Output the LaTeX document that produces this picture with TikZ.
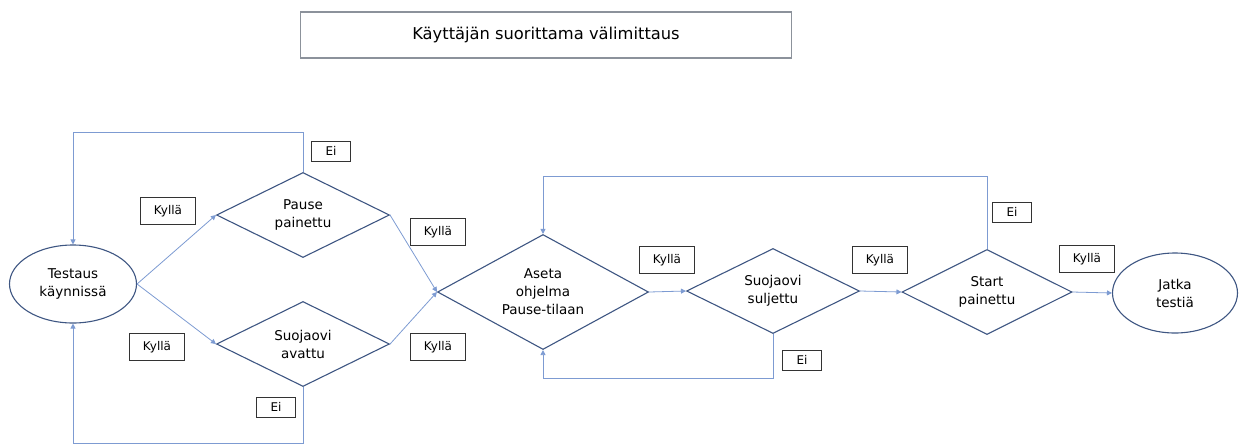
\documentclass[tikz,border=0pt]{standalone}
\usepackage{fontspec}
\setmainfont{DejaVu Sans}
\usepackage{tikz}
\usetikzlibrary{positioning, shapes.geometric, arrows.meta}

\definecolor{linkblue}{RGB}{125,155,210}
\definecolor{shapeblue}{RGB}{62,86,130}
\definecolor{titlegray}{RGB}{140,146,155}

\begin{document}
\begin{tikzpicture}[x=1pt,y=-1pt,
  oval_node/.style={ellipse,draw=shapeblue,line width=1.1pt,inner sep=0pt,minimum width=127,minimum height=78,align=center,font=\fontsize{13.5}{18}\selectfont},
  dec_node/.style={diamond,shape aspect=2,draw=shapeblue,line width=1.1pt,inner sep=0pt,minimum width=173,minimum height=85,align=center,font=\fontsize{13.5}{18}\selectfont},
  yesbox/.style={draw=black!80,line width=0.9pt,inner sep=0pt,minimum width=55,minimum height=27,font=\fontsize{12}{13}\selectfont},
  nobox/.style={draw=black!80,line width=0.9pt,inner sep=0pt,minimum width=39,minimum height=20,font=\fontsize{12}{13}\selectfont},
  link/.style={draw=linkblue,line width=0.8pt,-{Triangle[length=5pt,width=5pt]}}]

\useasboundingbox (0,0) rectangle (1239,445);

\node[draw=titlegray,line width=1.6pt,minimum width=491,minimum height=46,inner sep=0pt,font=\fontsize{16.3}{18}\selectfont] (title) at (546,35) {Käyttäjän suorittama välimittaus};

\node[oval_node] (test) at (73,284) {Testaus\\käynnissä};
\node[dec_node] (pause) at (303,215) {Pause\\painettu};
\node[dec_node] (avattu) at (303,344) {Suojaovi\\avattu};
\node[dec_node,shape aspect=1.83,minimum width=211,minimum height=115] (aseta) at (543,292) {Aseta\\ohjelma\\Pause-tilaan};
\node[dec_node] (suljettu) at (773,291) {Suojaovi\\suljettu};
\node[dec_node,minimum width=170] (start) at (987,292) {Start\\painettu};
\node[oval_node,minimum width=125,minimum height=80] (jatka) at (1175,293) {Jatka\\testiä};

% vastaukset
\node[yesbox] (k1) at (168,211) {Kyllä};
\node[yesbox] (k2) at (157,347) {Kyllä};
\node[yesbox] (k3) at (438,232) {Kyllä};
\node[yesbox] (k4) at (438,347) {Kyllä};
\node[yesbox] (k5) at (667,260) {Kyllä};
\node[yesbox] (k6) at (880,260) {Kyllä};
\node[yesbox] (k7) at (1087,259) {Kyllä};
\node[nobox] (e1) at (331,151) {Ei};
\node[nobox] (e2) at (276,407) {Ei};
\node[nobox] (e3) at (802,360) {Ei};
\node[nobox] (e4) at (1012,212) {Ei};

\path
\foreach \i/\j in {test.east/pause.west,test.east/avattu.west,pause.east/aseta.west,avattu.east/aseta.west,aseta.east/suljettu.west,suljettu.east/start.west,start.east/jatka.west}{(\i) edge[link] (\j)};

% paluusilmukat
\draw[link] (pause.north) -- ++(0,-40) -| (test.north);
\draw[link] (avattu.south) -- ++(0,56) -| (test.south);
\draw[link] (start.north) -- ++(0,-73) -| (aseta.north);
\draw[link] (suljettu.south) -- ++(0,44) -| (aseta.south);

\end{tikzpicture}
\end{document}
